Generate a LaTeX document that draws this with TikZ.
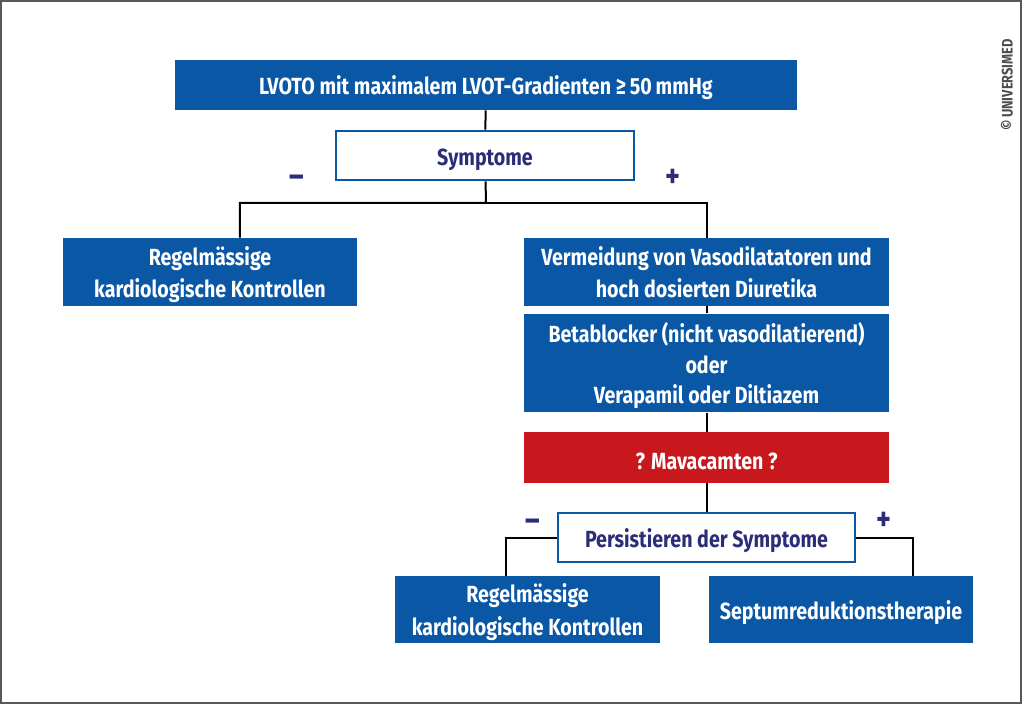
\documentclass[tikz,border=0pt]{standalone}
\usepackage{fontspec}
\setmainfont{Fira Sans}[FakeStretch=0.84]
\usepackage{tikz}

\definecolor{boxblue}{HTML}{0A57A5}
\definecolor{textnavy}{HTML}{2B2D78}
\definecolor{boxred}{HTML}{C8181E}

\begin{document}
\begin{tikzpicture}[x=0.02cm,y=-0.02cm,
        font=\fontsize{13.3}{18.6}\selectfont\bfseries,
        every node/.style={inner sep=0pt,align=center},
        lowered/.style={execute at begin node={\rule{0pt}{14pt}}},
        multi/.style={text depth=0pt},
        bluebox/.style={lowered,fill=boxblue,text=white},
        redbox/.style={lowered,fill=boxred,text=white},
        askbox/.style={lowered,draw=boxblue,line width=0.55mm,fill=white,text=textnavy},
        sign/.style={text=textnavy,font=\fontsize{19}{19}\selectfont\bfseries},
        link/.style={line width=0.4mm}]

    \useasboundingbox (0,0) rectangle (1024,705);
    \draw[line width=0.45mm,black!65] (1,1) rectangle (1021,703);

    \node[bluebox,minimum width=124.4mm,minimum height=10mm] (lvoto) at (486,85)
        {LVOTO mit maximalem LVOT-Gradienten ≥\,50\,mmHg};
    \node[askbox,minimum width=59.6mm,minimum height=9.8mm] (sym) at (485,155.5) {Symptome};

    \node[bluebox,multi,minimum width=58.8mm,minimum height=13.6mm] (kontr1) at (210,272)
        {Regelmässige\\kardiologische Kontrollen};
    \node[bluebox,multi,minimum width=73mm,minimum height=13.6mm] (vaso) at (706.5,272)
        {Vermeidung von Vasodilatatoren und\\hoch dosierten Diuretika};
    \node[bluebox,multi,minimum width=73mm,minimum height=19.8mm,font=\fontsize{13.3}{17.2}\selectfont\bfseries] (beta) at (706.5,363)
        {Betablocker (nicht vasodilatierend)\\oder\\Verapamil oder Diltiazem};
    \node[redbox,minimum width=73mm,minimum height=10.2mm] (mava) at (706.5,457.5) {? Mavacamten ?};
    \node[askbox,minimum width=59.4mm,minimum height=9.8mm] (pers) at (706.5,537.5) {Persistieren der Symptome};

    \node[bluebox,multi,minimum width=53mm,minimum height=13.4mm] (kontr2) at (527.5,609.5)
        {Regelmässige\\kardiologische Kontrollen};
    \node[bluebox,minimum width=52.8mm,minimum height=13.4mm] (septum) at (841,609.5)
        {Septumreduktionstherapie};

    % plus / minus
    \node[sign] (neg1) at (297,181) {–};
    \node[sign] (pos1) at (673,178) {+};
    \node[sign] (neg2) at (533,525) {–};
    \node[sign] (pos2) at (884,521) {+};

    \node[rotate=90,text=black!70,font=\fontsize{8.7}{9}\selectfont\bfseries] (copy) at (1007,85) {©\,UNIVERSIMED};

    % connectors
    \coordinate (split) at (486,203);
    \draw[link] (lvoto) -- (sym);
    \draw[link] (sym) -- (split) -| ([xshift=6mm]kontr1.north);
    \draw[link] (split) -| (vaso.north);
    \draw[link] (vaso) -- (beta);
    \draw[link] (beta) -- (mava);
    \draw[link] (mava) -- (pers);
    \draw[link] (pers.west) -| ([xshift=-4.3mm]kontr2.north);
    \draw[link] (pers.east) -| ([xshift=14.4mm]septum.north);
\end{tikzpicture}
\end{document}
